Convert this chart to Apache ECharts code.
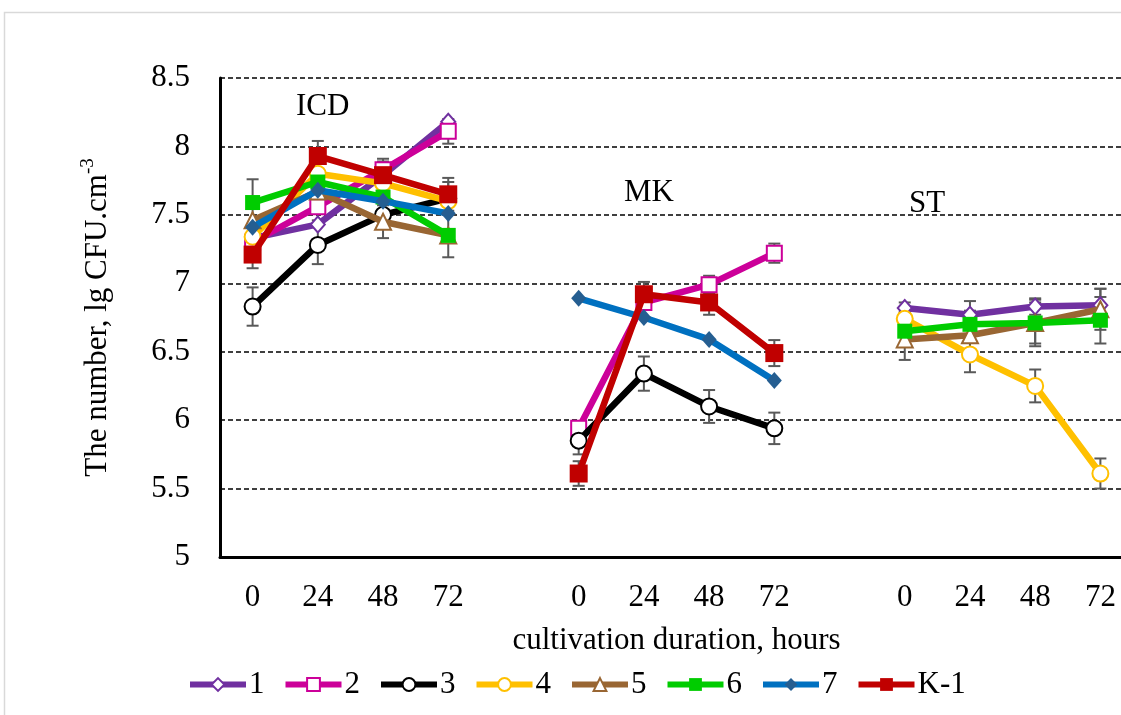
<!DOCTYPE html>
<html><head><meta charset="utf-8">
<script src="https://cdn.jsdelivr.net/npm/echarts@6/dist/echarts.min.js"></script>
<style>html,body{margin:0;padding:0;background:#fff;overflow:hidden;width:1121px;height:715px}#c{width:1133px;height:715px}</style>
</head><body><div id="c"></div>
<script>
// categories: ICD (0..72), gap, MK (0..72), gap, ST (0..72)
const tickLabels = ['0','24','48','72','','0','24','48','72','','0','24','48','72'];
const yTicks = [5, 5.5, 6, 6.5, 7, 7.5, 8, 8.5];
const groupLabels = ['ICD', 'MK', 'ST'];
const seriesNames = ['1','2','3','4','5','6','7','K-1'];

const s1 = [7.33, 7.43, 7.79, 8.18, null, null, null, null, null, null, 6.82, 6.77, 6.83, 6.84];
const s2 = [7.30, 7.56, 7.83, 8.11, null, 5.94, 6.86, 6.99, 7.22, null, null, null, null, null];
const s3 = [6.83, 7.28, 7.50, 7.62, null, 5.85, 6.34, 6.10, 5.94, null, null, null, null, null];
const s4 = [7.34, 7.80, 7.73, 7.60, null, null, null, null, null, null, 6.74, 6.48, 6.25, 5.61];
const s5 = [7.46, 7.67, 7.45, 7.35, null, null, null, null, null, null, 6.59, 6.62, 6.71, 6.81];
const s6 = [7.59, 7.74, 7.63, 7.35, null, null, null, null, null, null, 6.65, 6.70, 6.71, 6.73];
const s7 = [7.41, 7.68, 7.60, 7.51, null, 6.89, 6.75, 6.59, 6.29, null, null, null, null, null];
const sK = [7.21, 7.93, 7.79, 7.65, null, 5.61, 6.92, 6.86, 6.49, null, null, null, null, null];

const e1 = [null, null, null, null, null, null, null, null, null, null, 0.04, 0.10, 0.06, 0.12];
const e2 = [null, 0.10, 0.08, 0.09, null, null, null, 0.065, 0.07, null, null, null, null, null];
const e3 = [0.14, 0.14, 0.10, 0.12, null, 0.10, 0.125, 0.12, 0.115, null, null, null, null, null];
const e4 = [null, null, null, null, null, null, null, null, null, null, 0.05, 0.13, 0.12, 0.11];
const e5 = [null, null, 0.12, null, null, null, null, null, null, null, 0.15, 0.10, 0.15, 0.15];
const e6 = [0.17, null, null, 0.16, null, null, null, null, null, null, 0.10, 0.10, 0.17, 0.17];
const e7 = [null, null, null, null, null, null, null, null, null, null, null, null, null, null];
const eK = [0.10, 0.11, 0.10, 0.12, null, 0.09, 0.09, 0.09, 0.095, null, null, null, null, null];

const values = [s1, s2, s3, s4, s5, s6, s7, sK];
const errors = [e1, e2, e3, e4, e5, e6, e7, eK];

const styles = [
  {line:'#7030A0', mark:'#7030A0', symbol:'diamond', open:true, size:[14,16]},
  {line:'#CC0099', mark:'#CC0099', symbol:'rect', open:true, size:15},
  {line:'#000000', mark:'#000000', symbol:'circle', open:true, size:16},
  {line:'#FFC000', mark:'#FFC000', symbol:'circle', open:true, size:16},
  {line:'#996633', mark:'#996633', symbol:'triangle', open:true, size:16},
  {line:'#00CC00', mark:'#00CC00', symbol:'rect', open:false, size:15},
  {line:'#0070C0', mark:'#255E91', symbol:'diamond', open:false, size:[15,17]},
  {line:'#C00000', mark:'#C00000', symbol:'rect', open:false, size:18}
];

const FONT = '"Liberation Serif", "Times New Roman", serif';
const FS = 31;

const series = [];
errors.forEach((err, si) => {
  const d = [];
  err.forEach((e, i) => {
    const v = values[si][i];
    if (e != null && v != null) d.push([i, v - e, v + e]);
  });
  series.push({
    type: 'custom', name: 'err' + si, z: 1, silent: true,
    renderItem: function (params, api) {
      const lo = api.coord([api.value(0), api.value(1)]);
      const hi = api.coord([api.value(0), api.value(2)]);
      const w = 6;
      const st = {stroke: '#595959', lineWidth: 2};
      return {type: 'group', children: [
        {type: 'line', shape: {x1: lo[0], y1: lo[1], x2: hi[0], y2: hi[1]}, style: st},
        {type: 'line', shape: {x1: lo[0]-w, y1: lo[1], x2: lo[0]+w, y2: lo[1]}, style: st},
        {type: 'line', shape: {x1: hi[0]-w, y1: hi[1], x2: hi[0]+w, y2: hi[1]}, style: st}
      ]};
    },
    data: d
  });
});
values.forEach((vals, si) => {
  const s = styles[si];
  series.push({
    type: 'line', name: seriesNames[si], data: vals, z: 2 + si,
    connectNulls: false,
    symbol: s.symbol, symbolSize: s.size, showAllSymbol: true,
    lineStyle: {color: s.line, width: 6.5},
    itemStyle: {color: s.open ? '#ffffff' : s.mark, borderColor: s.mark, borderWidth: s.open ? 2 : 0},
    emphasis: {disabled: true},
    animation: false
  });
});

const chart = echarts.init(document.getElementById('c'), null, {renderer: 'canvas'});
chart.setOption({
  animation: false,
  backgroundColor: '#ffffff',
  textStyle: {fontFamily: FONT},
  grid: {left: 220, top: 78, right: 0, height: 479, containLabel: false},
  xAxis: {
    type: 'category', data: tickLabels, boundaryGap: true,
    axisLine: {lineStyle: {color: '#000', width: 3}},
    axisTick: {show: false},
    axisLabel: {color: '#000', fontSize: FS, fontFamily: FONT, margin: 25, interval: 0},
    name: 'cultivation duration, hours', nameLocation: 'middle', nameGap: 68,
    nameTextStyle: {color: '#000', fontSize: FS, fontFamily: FONT}
  },
  yAxis: {
    type: 'value', min: yTicks[0], max: yTicks[yTicks.length-1], interval: 0.5,
    axisLine: {show: true, lineStyle: {color: '#000', width: 3}},
    axisTick: {show: false},
    axisLabel: {color: '#000', fontSize: FS, fontFamily: FONT, margin: 30,
      formatter: v => String(v)},
    splitLine: {show: true, lineStyle: {color: '#000', width: 1.5, type: [5, 3]}},
    name: 'The number, lg CFU.cm{sup|-3}', nameLocation: 'middle', nameGap: 103,
    nameTextStyle: {color: '#000', fontSize: FS, fontFamily: FONT,
      rich: {sup: {fontSize: 19, fontFamily: FONT, color: '#000', verticalAlign: 'top', lineHeight: 38}}}
  },
  legend: {
    left: 182, top: 664, itemWidth: 56, itemHeight: 16, itemGap: 18,
    data: seriesNames,
    lineStyle: {width: 6},
    textStyle: {color: '#000', fontSize: FS, fontFamily: FONT, padding: [0,0,0,-2]}
  },
  graphic: [
    {type: 'rect', shape: {x: 4.5, y: 12.5, width: 1300, height: 900}, style: {fill: 'none', stroke: '#d9d9d9', lineWidth: 1.5}, z: -10, silent: true},
    {type: 'text', left: 296, top: 91, style: {text: groupLabels[0], fontSize: FS, fontFamily: FONT, fill: '#000'}},
    {type: 'text', left: 624, top: 177, style: {text: groupLabels[1], fontSize: FS, fontFamily: FONT, fill: '#000'}},
    {type: 'text', left: 909, top: 188, style: {text: groupLabels[2], fontSize: FS, fontFamily: FONT, fill: '#000'}}
  ],
  series: series
});
</script>
</body></html>
